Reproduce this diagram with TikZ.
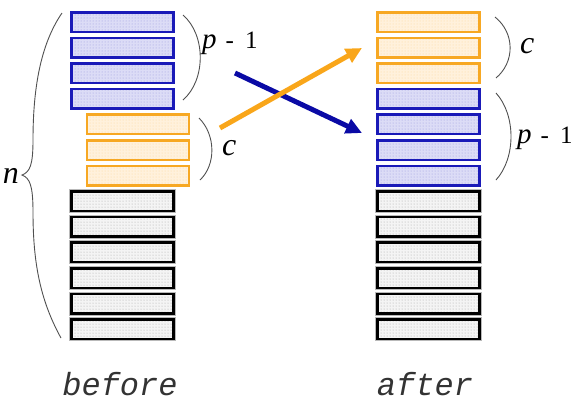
\documentclass[tikz,border=0pt]{standalone}
\usepackage{fontspec}
\setmainfont{Liberation Serif}
\setmonofont{Liberation Mono}
\usepackage{tikz}
\usetikzlibrary{arrows.meta,positioning,calc,patterns}
\definecolor{slotblue}{HTML}{1A1AB8}
\definecolor{arrowblue}{HTML}{0A0AA5}
\definecolor{slotorange}{HTML}{F7A823}
\definecolor{arroworange}{HTML}{F9A61A}
\definecolor{fillblue}{HTML}{DCDCF6}
\definecolor{fillorange}{HTML}{FFF1DC}
\definecolor{fillgray}{HTML}{F4F4F4}
\definecolor{bracegray}{HTML}{505050}
\definecolor{labelgray}{HTML}{333333}
\newcommand{\bigit}[1]{{\fontsize{32pt}{36pt}\selectfont\itshape #1}}
\newcommand{\pminusone}{{\fontsize{29pt}{32pt}\selectfont\itshape p}\hspace{9pt}-\hspace{11pt}1}

\begin{document}
\begin{tikzpicture}[x=1pt,y=-1pt,
  slot/.style={minimum width=102pt,minimum height=19.5pt,line width=2.5pt,inner sep=0pt},
  blueslot/.style={slot,draw=slotblue,preaction={fill=fillblue},preaction={pattern=dots,pattern color=slotblue!45}},
  orangeslot/.style={slot,draw=slotorange,preaction={fill=fillorange},preaction={pattern=dots,pattern color=slotorange!45}},
  grayslot/.style={slot,draw=black,preaction={draw=gray!55,line width=4.5pt},preaction={fill=fillgray},preaction={pattern=dots,pattern color=gray!70}},
  brace/.style={bracegray,line width=0.9pt},
  count/.style={anchor=base west,inner sep=0pt,font=\fontsize{25pt}{28pt}\selectfont},
  move/.style={line width=5pt,-{Triangle[length=16pt,width=15pt]}},
  caption/.style={labelgray,font=\fontsize{32pt}{36pt}\selectfont\ttfamily\itshape,anchor=base}]
\useasboundingbox (0,0) rectangle (573,408);
\foreach \i in {0,...,3} \node[blueslot] (bp\i) at (122.5,{22+25.6*\i}) {};
\foreach \i in {4,...,6} \node[orangeslot] (bc\i) at (138,{22+25.6*\i}) {};
\foreach \i in {7,...,12} \node[grayslot] (bn\i) at (122.5,{22+25.6*\i}) {};
\foreach \i in {0,...,2} \node[orangeslot] (ac\i) at (428.5,{22+25.6*\i}) {};
\foreach \i in {3,...,6} \node[blueslot] (ap\i) at (428.5,{22+25.6*\i}) {};
\foreach \i in {7,...,12} \node[grayslot] (an\i) at (428.5,{22+25.6*\i}) {};
\draw[brace] (62,13) .. controls (40,45) and (33,90) .. (33,140) .. controls (33,165) and (30,172) .. (22,175)
  .. controls (30,178) and (33,186) .. (33,212) .. controls (33,262) and (40,300) .. (61,338);
\node[anchor=east,inner sep=0pt] (nlabel) at (19,176) {\bigit{n}};
\draw[brace] (183,15) .. controls (206,35) and (206,80) .. (183,100);
\node[count] (bplabel) at (202,48) {\pminusone};
\draw[brace] (199,118) .. controls (216,135) and (216,165) .. (200,180);
\node[anchor=base west,inner sep=0pt] (bclabel) at (222,155) {\bigit{c}};
\draw[brace] (495,17) .. controls (515,33) and (515,62) .. (496,78);
\node[anchor=base west,inner sep=0pt] (aclabel) at (520,53) {\bigit{c}};
\draw[brace] (496,93) .. controls (516,115) and (516,158) .. (496,180);
\node[count] (aplabel) at (517,143) {\pminusone};
\coordinate (ptail) at (235,73);
\coordinate (phead) at (362,133);
\coordinate (ctail) at (220,128);
\coordinate (chead) at (362,48);
\draw[move,arrowblue] (ptail) -- (phead);
\draw[move,arroworange] (ctail) -- (chead);
\node[caption] (before) at (120,395) {before};
\node[caption] (after) at (425,395) {after};
\end{tikzpicture}
\end{document}
